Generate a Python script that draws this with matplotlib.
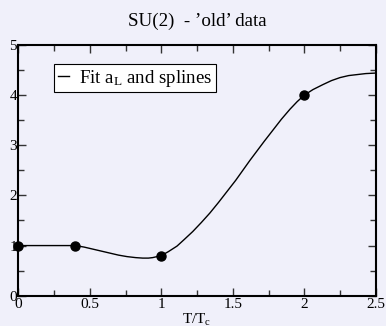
import matplotlib
matplotlib.use("Agg")
import matplotlib.pyplot as plt
from matplotlib.ticker import MultipleLocator, FuncFormatter

plt.rcParams['font.family'] = ['Liberation Serif', 'DejaVu Serif']
plt.rcParams['mathtext.fontset'] = 'custom'
plt.rcParams['mathtext.rm'] = 'Liberation Serif'
plt.rcParams['mathtext.it'] = 'Liberation Serif:italic'

# data points
pts_x = [0.0, 0.4, 1.0, 2.0]
pts_y = [1.0, 1.0, 0.8, 4.0]

# fit curve
fit_x = [0.0, 0.4, 0.46, 0.52, 0.58, 0.64, 0.70, 0.76, 0.82, 0.87, 0.91, 0.94, 0.97, 1.0,
         1.05, 1.11, 1.16, 1.22, 1.28, 1.34, 1.40, 1.46, 1.52, 1.57, 1.62, 1.67, 1.72, 1.78,
         1.84, 1.90, 1.95, 2.0, 2.06, 2.13, 2.19, 2.25, 2.31, 2.37, 2.43, 2.5]
fit_y = [1.0, 1.0, 0.97, 0.93, 0.89, 0.85, 0.81, 0.78, 0.76, 0.75, 0.75, 0.76, 0.78, 0.80,
         0.88, 0.99, 1.12, 1.28, 1.46, 1.65, 1.86, 2.08, 2.30, 2.50, 2.70, 2.89, 3.08, 3.30,
         3.52, 3.72, 3.87, 4.00, 4.11, 4.21, 4.29, 4.35, 4.39, 4.41, 4.43, 4.44]

bg = '#f0f0fa'
fig = plt.figure(figsize=(3.86, 3.26), dpi=100, facecolor=bg)
ax = fig.add_axes([0.0474, 0.0929, 0.9262, 0.7691], facecolor=bg)

ax.plot(fit_x, fit_y, color='black', lw=1.0, label=r'Fit a$_\mathrm{L}$ and splines', zorder=2)
ax.plot(pts_x, pts_y, 'o', color='black', ms=6.5, zorder=3, clip_on=False)

ax.set_xlim(0, 2.5)
ax.set_ylim(0, 5)
ax.xaxis.set_major_locator(MultipleLocator(0.5))
ax.xaxis.set_minor_locator(MultipleLocator(0.25))
ax.yaxis.set_major_locator(MultipleLocator(1))
ax.yaxis.set_minor_locator(MultipleLocator(0.5))
ax.tick_params(which='both', direction='in', top=True, right=True, labelsize=11, pad=2, width=1.0, color='#333333')
ax.tick_params(which='major', length=6)
ax.tick_params(which='minor', length=4)
ax.tick_params(axis='y', pad=1)
ax.xaxis.set_major_formatter(FuncFormatter(lambda v, p: ('%g' % v)))
ax.yaxis.set_major_formatter(FuncFormatter(lambda v, p: ('%g' % v)))
for s in ax.spines.values():
    s.set_linewidth(1.5)

ax.set_title("SU(2)  - \u2019old\u2019 data", fontsize=13.7, pad=14)
ax.set_xlabel(r'T/T$_\mathrm{c}$', fontsize=11, labelpad=0)

leg = ax.legend(loc='upper left', bbox_to_anchor=(0.1, 0.925), frameon=True, fancybox=False,
                edgecolor='black', facecolor='white', framealpha=1, fontsize=13.6,
                handlelength=0.6, handletextpad=0.5, borderpad=0.2, borderaxespad=0)
leg.get_frame().set_linewidth(0.8)

fig.savefig('out.png', dpi=100, facecolor=bg)
